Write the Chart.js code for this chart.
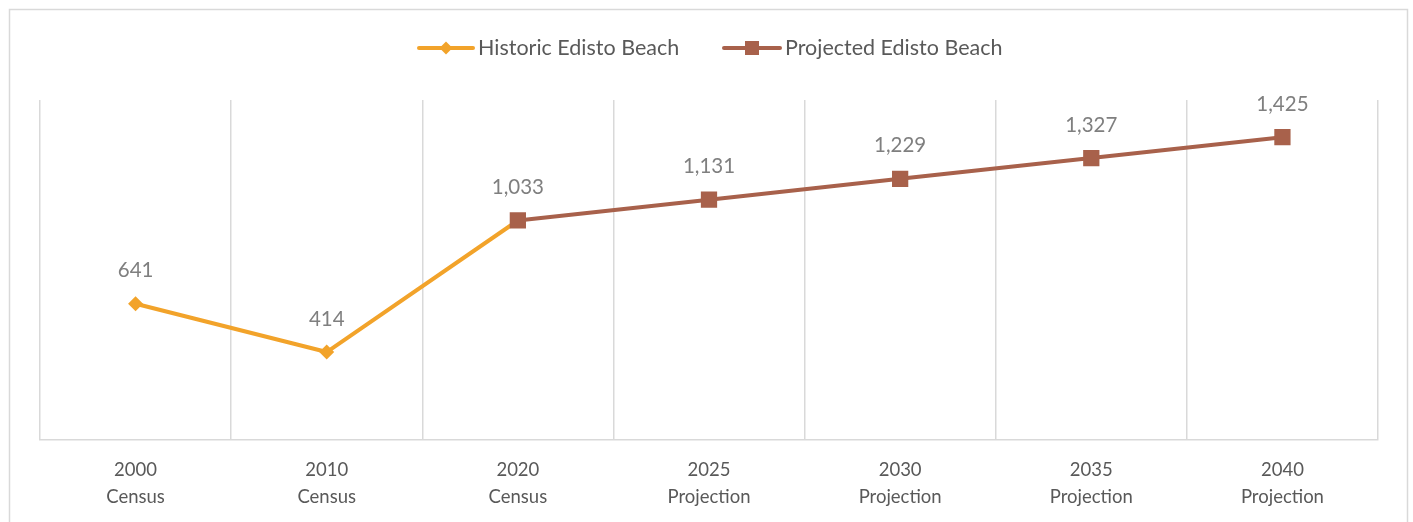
<!DOCTYPE html>
<html>
<head>
<meta charset="utf-8">
<script src="https://cdn.jsdelivr.net/npm/chart.js@4.4.1/dist/chart.umd.min.js"></script>
<style>
  html, body { margin: 0; padding: 0; background: #ffffff; }
  #wrap { position: relative; width: 1413px; height: 522px; }
</style>
</head>
<body>
<div id="wrap"><canvas id="chart" width="1413" height="522"></canvas></div>
<script>
// Population of Edisto Beach: census counts and projections
const categories = [
  ['2000', 'Census'], ['2010', 'Census'], ['2020', 'Census'],
  ['2025', 'Projection'], ['2030', 'Projection'], ['2035', 'Projection'], ['2040', 'Projection']
];
const historicValues  = [641, 414, 1033, null, null, null, null];
const projectedValues = [null, null, 1033, 1131, 1229, 1327, 1425];
const seriesNames = ['Historic Edisto Beach', 'Projected Edisto Beach'];

const ORANGE = '#F2A32A';
const BROWN = '#A8614B';
const FONT = 'Lato, "Open Sans", sans-serif';

// Outer frame around the whole chart
const framePlugin = {
  id: 'frame',
  beforeDraw(chart) {
    const ctx = chart.ctx;
    ctx.save();
    ctx.strokeStyle = '#d9d9d9';
    ctx.lineWidth = 1.5;
    ctx.strokeRect(9.5, 9.5, 1398, 530);
    ctx.restore();
  }
};

// Legend: line segment with the series marker, then the series name
function drawMarker(ctx, shape, x, y, color) {
  ctx.fillStyle = color;
  ctx.beginPath();
  if (shape === 'rectRot') {
    const r = 6.5;
    ctx.moveTo(x, y - r); ctx.lineTo(x + r, y); ctx.lineTo(x, y + r); ctx.lineTo(x - r, y);
    ctx.closePath();
  } else {
    ctx.rect(x - 7, y - 7, 14, 14);
  }
  ctx.fill();
}
const legendPlugin = {
  id: 'lineLegend',
  afterDraw(chart) {
    const ctx = chart.ctx;
    const items = [
      { x: 419, w: 54, color: ORANGE, shape: 'rectRot', text: seriesNames[0] },
      { x: 724, w: 56, color: BROWN, shape: 'rect', text: seriesNames[1] }
    ];
    const y = 48;
    ctx.save();
    items.forEach(it => {
      ctx.strokeStyle = it.color;
      ctx.lineWidth = 4;
      ctx.lineCap = 'round';
      ctx.beginPath();
      ctx.moveTo(it.x, y); ctx.lineTo(it.x + it.w, y);
      ctx.stroke();
      drawMarker(ctx, it.shape, it.x + it.w / 2, y, it.color);
      ctx.fillStyle = '#595959';
      ctx.font = '21.5px ' + FONT;
      ctx.textBaseline = 'middle';
      ctx.textAlign = 'left';
      ctx.fillText(it.text, it.x + it.w + 5, y);
    });
    ctx.restore();
  }
};

// Value labels above each point (each category labelled once)
const valueLabelPlugin = {
  id: 'valueLabels',
  afterDatasetsDraw(chart) {
    const ctx = chart.ctx;
    const done = new Set();
    ctx.save();
    ctx.font = '20.5px ' + FONT;
    ctx.fillStyle = '#7f7f7f';
    ctx.textAlign = 'center';
    ctx.textBaseline = 'middle';
    chart.data.datasets.forEach((ds, di) => {
      const meta = chart.getDatasetMeta(di);
      ds.data.forEach((v, i) => {
        if (v === null || done.has(i)) return;
        done.add(i);
        const pt = meta.data[i];
        ctx.fillText(v.toLocaleString('en-US'), pt.x, pt.y - 33);
      });
    });
    ctx.restore();
  }
};

new Chart(document.getElementById('chart'), {
  type: 'line',
  data: {
    labels: categories,
    datasets: [
      {
        label: seriesNames[1],
        data: projectedValues,
        borderColor: BROWN,
        backgroundColor: BROWN,
        borderWidth: 4,
        pointStyle: 'rect',
        pointRadius: 11.5,
        pointHoverRadius: 11.5,
        pointBorderWidth: 0,
        order: 0
      },
      {
        label: seriesNames[0],
        data: historicValues,
        borderColor: ORANGE,
        backgroundColor: ORANGE,
        borderWidth: 4,
        pointStyle: 'rectRot',
        pointRadius: 7.5,
        pointHoverRadius: 7.5,
        pointBorderWidth: 0,
        order: 1
      }
    ]
  },
  options: {
    responsive: false,
    animation: false,
    layout: { padding: { left: 40, right: 35, top: 100, bottom: 0 } },
    plugins: {
      legend: { display: false },
      tooltip: { enabled: false }
    },
    scales: {
      x: {
        offset: true,
        grid: { offset: true, color: '#d9d9d9', lineWidth: 1.5, drawTicks: false },
        border: { color: '#d9d9d9', width: 1.5 },
        ticks: {
          color: '#595959',
          font: { family: FONT, size: 18.5, lineHeight: 1.46 },
          padding: 17,
          maxRotation: 0
        },
        afterFit(scale) { scale.height = 82; }
      },
      y: {
        display: false,
        min: 0,
        max: 1600
      }
    }
  },
  plugins: [framePlugin, valueLabelPlugin, legendPlugin]
});
</script>
</body>
</html>
